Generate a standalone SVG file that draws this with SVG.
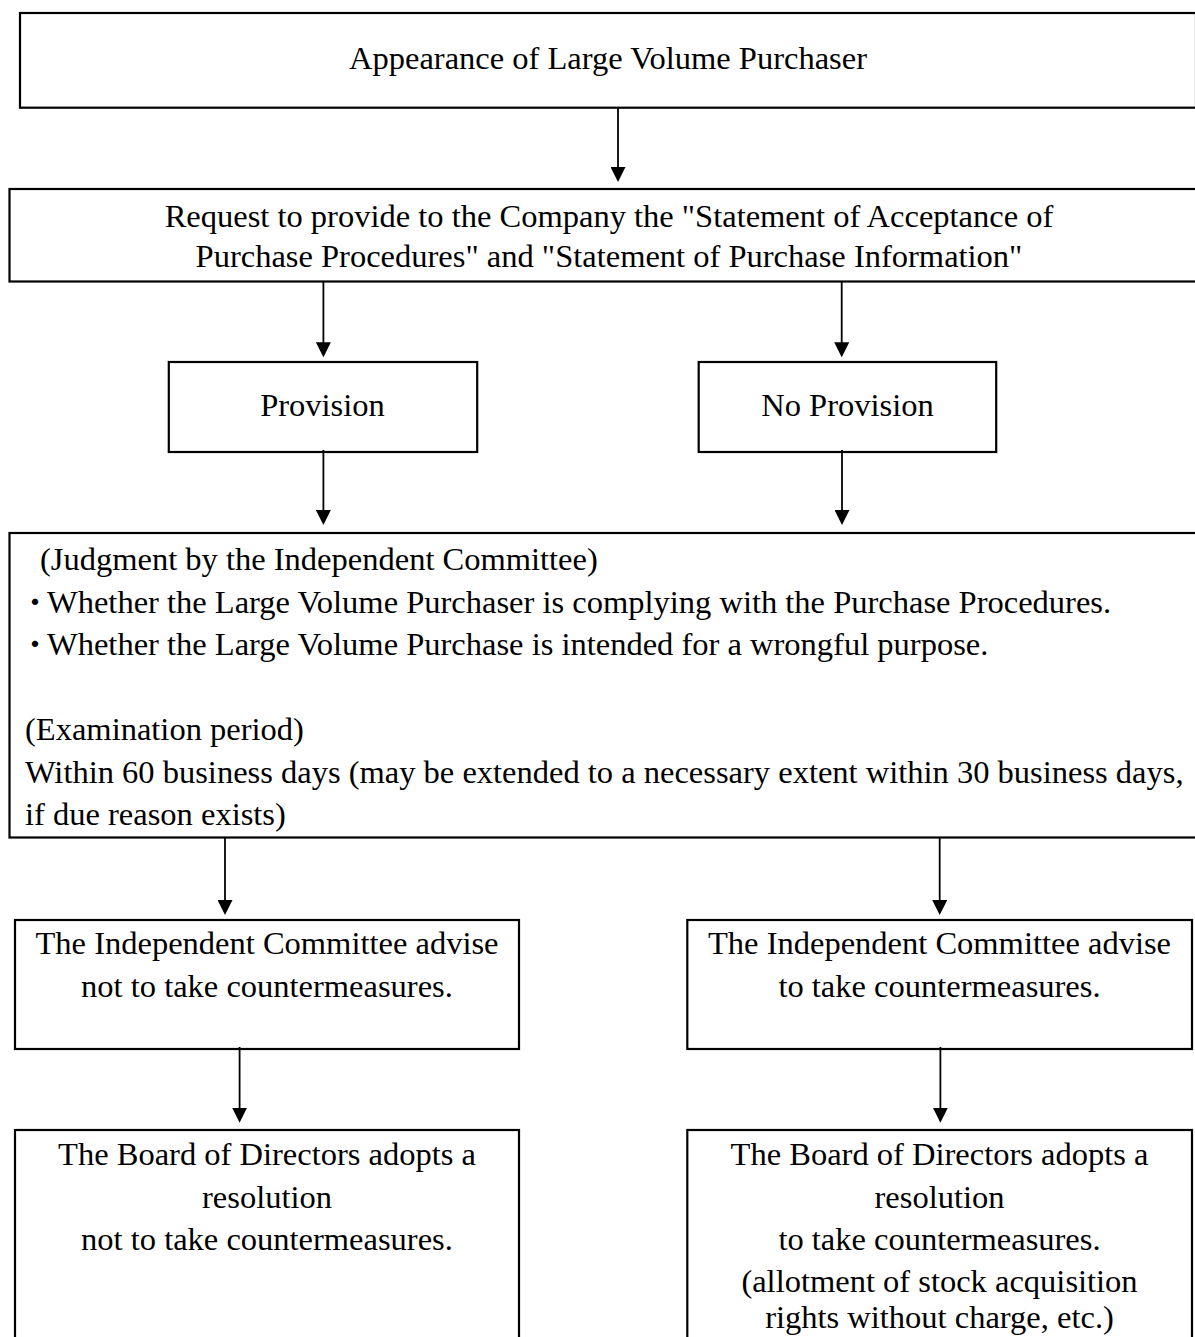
<svg xmlns="http://www.w3.org/2000/svg" width="1195" height="1337" viewBox="0 0 1195 1337">
<style>
  .box { fill: #ffffff; stroke: #000000; stroke-width: 2.2; }
  .t { font-family: "Liberation Serif", "Noto Sans CJK JP", serif; font-size: 32.5px; fill: #000000; }
  .c { text-anchor: middle; }
  .dot { font-family: "Noto Sans CJK JP", "Liberation Serif", sans-serif; font-size: 30px; }
  .conn { stroke: #000000; stroke-width: 1.8; fill: none; marker-end: url(#arrow); }
</style>
<defs>
  <marker id="arrow" markerUnits="userSpaceOnUse" markerWidth="15" markerHeight="15" refX="7" refY="7.5" orient="auto">
    <path d="M0,0 L15,7.5 L0,15 z" fill="#000000"/>
  </marker>
</defs>
<rect x="0" y="0" width="1195" height="1337" fill="#ffffff"/>

<g id="node-appearance">
  <rect class="box" x="20" y="13" width="1176" height="94.7"/>
  <text class="t c" x="608" y="69">Appearance of Large Volume Purchaser</text>
</g>

<g id="node-request">
  <rect class="box" x="9.5" y="189" width="1200" height="92.5"/>
  <text class="t c" x="609" y="226.5">Request to provide to the Company the "Statement of Acceptance of</text>
  <text class="t c" x="609" y="267">Purchase Procedures" and "Statement of Purchase Information"</text>
</g>

<g id="node-provision">
  <rect class="box" x="168.8" y="362" width="308.4" height="90"/>
  <text class="t c" x="322.5" y="415.7">Provision</text>
</g>

<g id="node-no-provision">
  <rect class="box" x="698.7" y="362" width="297.5" height="90"/>
  <text class="t c" x="847.5" y="415.7">No Provision</text>
</g>

<g id="node-judgment">
  <rect class="box" x="9.5" y="533" width="1200" height="304.5"/>
  <text class="t" x="40" y="570">(Judgment by the Independent Committee)</text>
  <text class="t" y="612.5"><tspan class="dot" x="20">・</tspan><tspan x="47">Whether the Large Volume Purchaser is complying with the Purchase Procedures.</tspan></text>
  <text class="t" y="655"><tspan class="dot" x="20">・</tspan><tspan x="47">Whether the Large Volume Purchase is intended for a wrongful purpose.</tspan></text>
  <text class="t" x="25" y="740">(Examination period)</text>
  <text class="t" x="25" y="782.5">Within 60 business days (may be extended to a necessary extent within 30 business days,</text>
  <text class="t" x="25" y="825">if due reason exists)</text>
</g>

<g id="node-advise-not">
  <rect class="box" x="15" y="920" width="504" height="129"/>
  <text class="t c" x="267" y="954">The Independent Committee advise</text>
  <text class="t c" x="267" y="997">not to take countermeasures.</text>
</g>

<g id="node-advise-take">
  <rect class="box" x="687.3" y="920" width="504.7" height="129"/>
  <text class="t c" x="939.5" y="954">The Independent Committee advise</text>
  <text class="t c" x="939.5" y="997">to take countermeasures.</text>
</g>

<g id="node-board-not">
  <rect class="box" x="15" y="1130" width="504" height="230"/>
  <text class="t c" x="267" y="1165">The Board of Directors adopts a</text>
  <text class="t c" x="267" y="1207.5">resolution</text>
  <text class="t c" x="267" y="1250">not to take countermeasures.</text>
</g>

<g id="node-board-take">
  <rect class="box" x="687.3" y="1130" width="504.7" height="230"/>
  <text class="t c" x="939.5" y="1165">The Board of Directors adopts a</text>
  <text class="t c" x="939.5" y="1207.5">resolution</text>
  <text class="t c" x="939.5" y="1250">to take countermeasures.</text>
  <text class="t c" x="939.5" y="1292">(allotment of stock acquisition</text>
  <text class="t c" x="939.5" y="1328">rights without charge, etc.)</text>
</g>

<g id="connectors">
  <line class="conn" x1="618" y1="107.7" x2="618" y2="174"/>
  <line class="conn" x1="323.4" y1="281.5" x2="323.4" y2="349.3"/>
  <line class="conn" x1="841.7" y1="281.5" x2="841.7" y2="349.3"/>
  <line class="conn" x1="323.4" y1="450" x2="323.4" y2="517"/>
  <line class="conn" x1="842" y1="450" x2="842" y2="517"/>
  <line class="conn" x1="225" y1="837.5" x2="225" y2="907"/>
  <line class="conn" x1="939.7" y1="837.5" x2="939.7" y2="907"/>
  <line class="conn" x1="239.6" y1="1047" x2="239.6" y2="1114.7"/>
  <line class="conn" x1="940.4" y1="1047" x2="940.4" y2="1114.7"/>
</g>
</svg>
